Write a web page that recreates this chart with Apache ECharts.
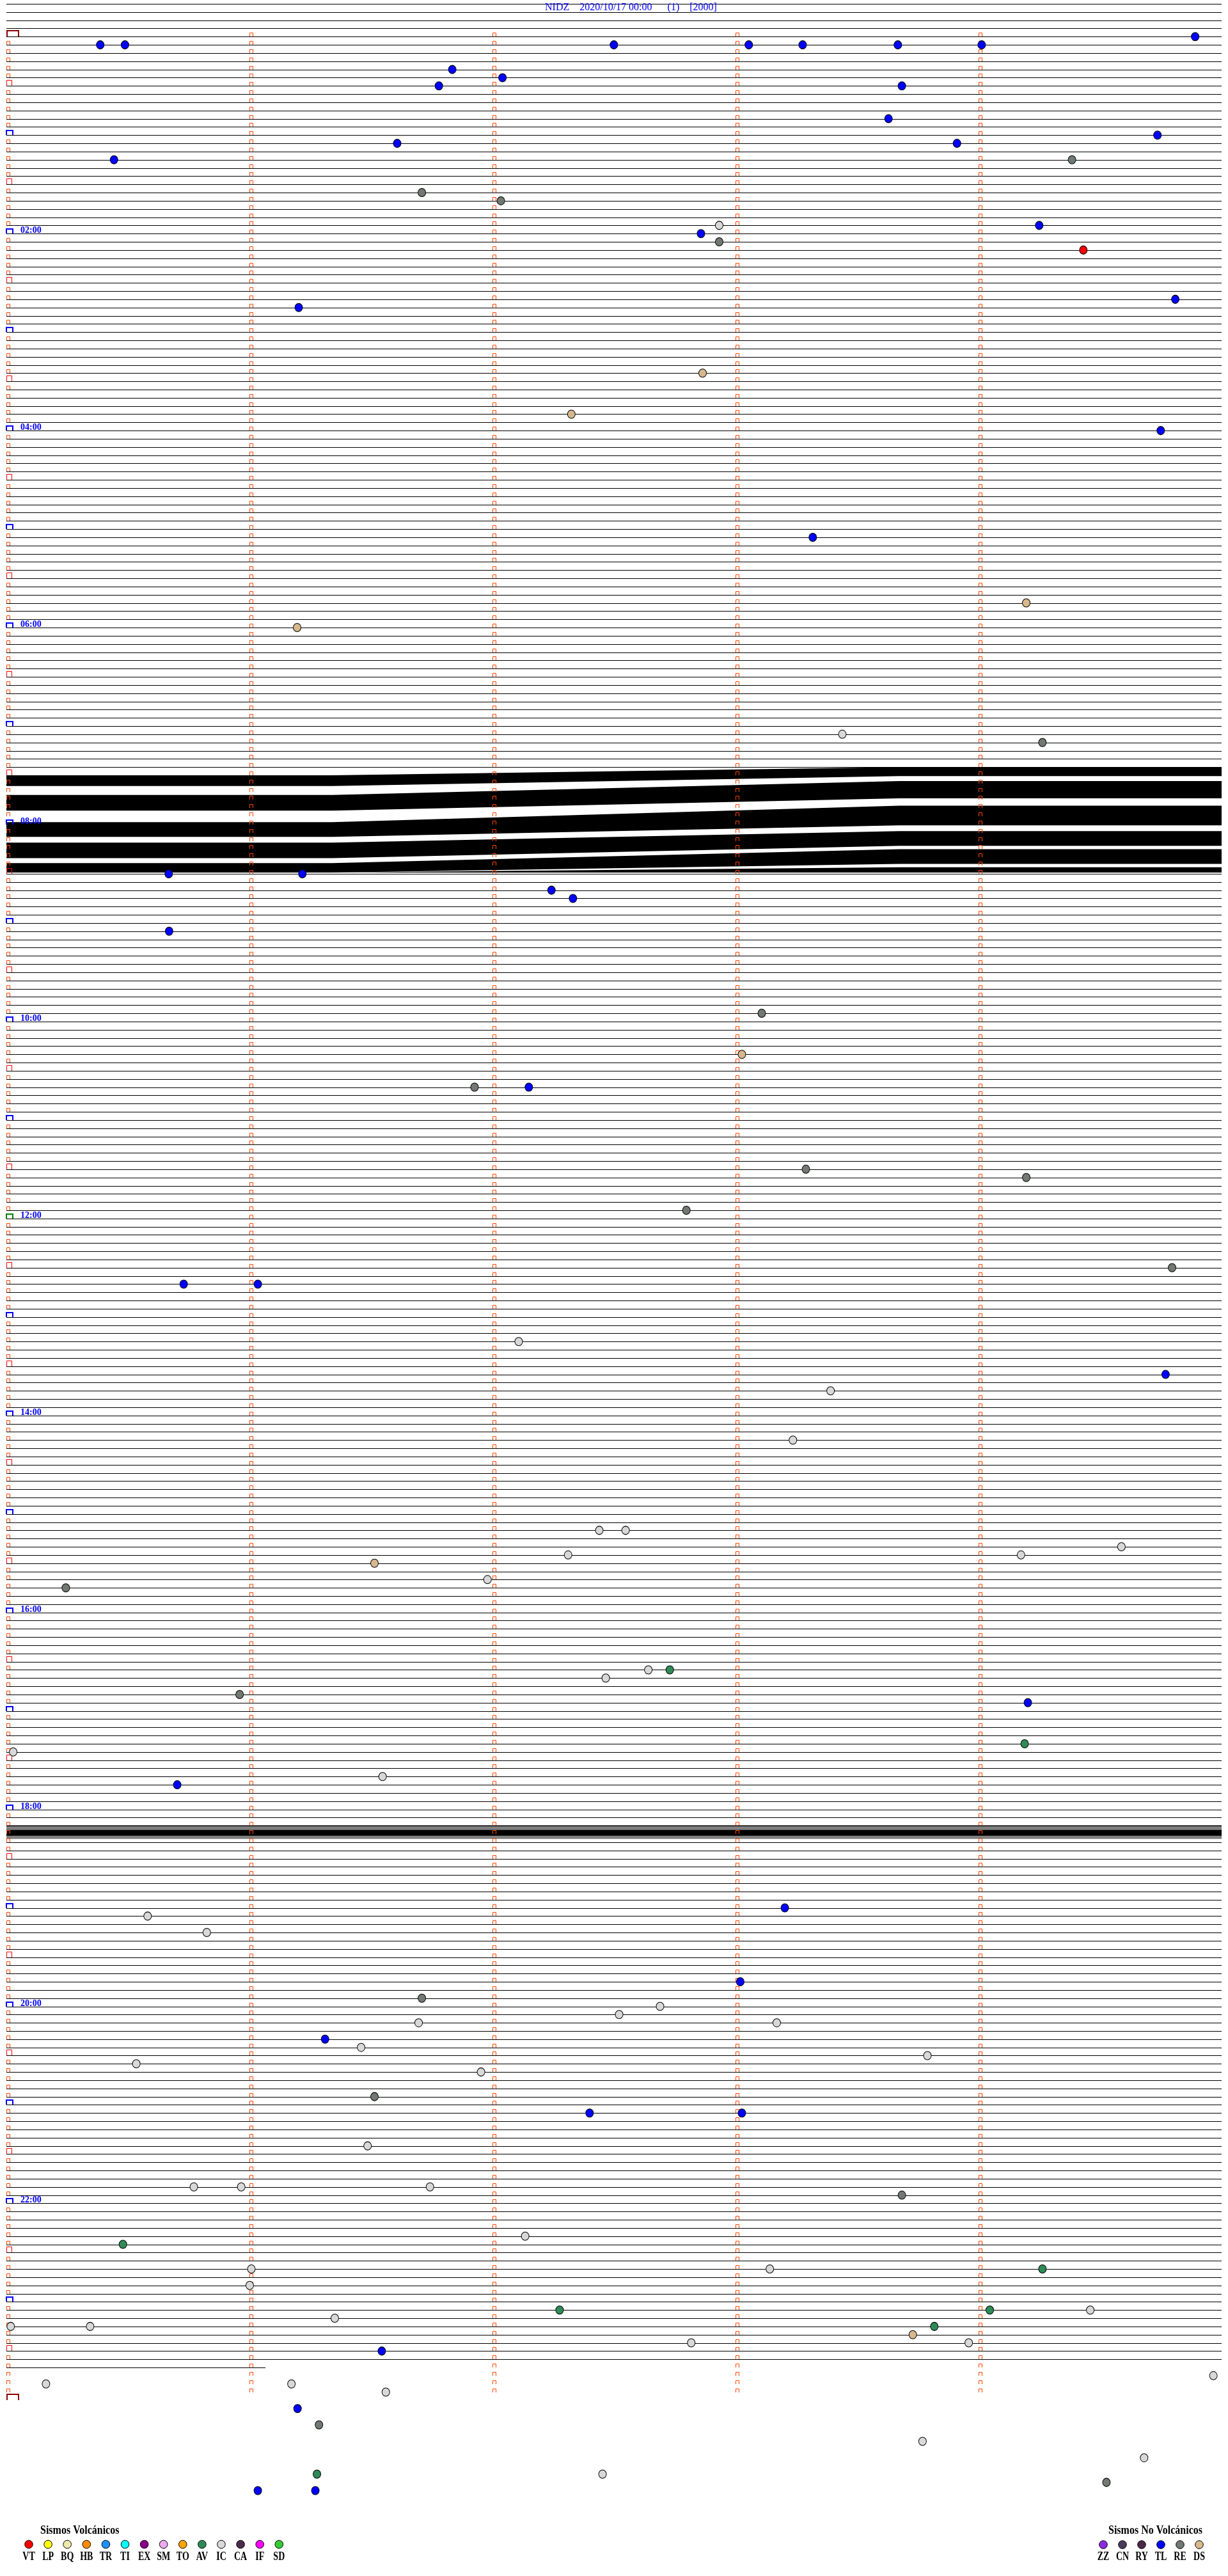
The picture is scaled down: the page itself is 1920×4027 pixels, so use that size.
<!DOCTYPE html>
<html><head><meta charset="utf-8">
<style>html,body{margin:0;padding:0;background:#fff;}#c{width:1920px;height:4027px;}</style>
<script src="https://cdn.jsdelivr.net/npm/echarts@6/dist/echarts.min.js"></script>
</head><body><div id="c"></div>
<script>
// ---------- data ----------
const titleText = 'NIDZ    2020/10/17 00:00      (1)    [2000]';
const rowStartSec = -0.47, rowEndSec = 299.53;   // each helicorder row spans 5 minutes
const firstLine = -4, lastLine = 284, lastLineEndSec = 63.5;
const dayEndLine = 288;
const minuteCols = [0, 60, 120, 180, 240];
const timeLabels = ['02:00','04:00','06:00','08:00','10:00','12:00','14:00','16:00','18:00','20:00','22:00'];
const noisyRows = [90, 101];   // rows whose trace is saturated (no baseline visible)
const noonRow = 144;           // 12:00 marker drawn in green

// events: [second within row, row index]
const evTL = [[22.7,1],[28.8,1],[149.5,1],[182.8,1],[196.1,1],[219.6,1],[240.3,1],[293.0,0],
 [109.6,4],[122.0,5],[106.3,6],[220.6,6],[217.3,10],[283.7,12],[234.2,13],[96.0,13],
 [26.1,15],[254.5,23],[171.0,24],[288.1,32],[71.7,33],[284.5,48],[198.6,61],
 [39.6,102],[72.6,102],[134.1,104],[139.4,105],[39.7,109],[128.5,128],[43.3,152],[61.6,152],
 [285.7,163],[251.7,203],[41.7,213],[191.7,228],[180.7,237],[78.2,244],[143.5,253],[181.1,253],
 [92.2,282],[71.4,289],[61.6,299],[75.8,299]];
const evRE = [[262.6,15],[102.1,19],[121.6,20],[175.5,25],[255.3,86],[186.0,119],[115.1,128],[196.9,138],
 [251.3,139],[167.4,143],[287.3,150],[14.2,189],[57.1,202],[102.1,239],[90.4,251],[220.6,263],[76.7,291],[271.1,298]];
const evIC = [[175.5,23],[205.9,85],[126.0,159],[203.0,165],[193.7,171],[145.9,182],[152.4,182],[274.8,184],
 [138.2,185],[250.0,185],[118.3,188],[158.0,199],[147.5,200],[1.2,209],[92.4,212],[34.4,229],[49.0,231],
 [160.9,240],[150.8,241],[101.3,242],[189.7,242],[87.1,245],[226.9,246],[31.6,247],[116.7,248],[88.7,257],
 [45.8,262],[57.5,262],[104.1,262],[127.6,268],[60.0,272],[188.0,272],[59.6,274],[267.1,277],[80.6,278],
 [0.6,279],[20.2,279],[168.6,281],[237.1,281],[297.5,285],[9.3,286],[69.9,286],[93.2,287],[225.7,293],
 [280.4,295],[146.7,297]];
const evDS = [[171.4,41],[139.0,46],[251.3,69],[71.3,72],[181.1,124],[90.4,186],[223.3,280]];
const evVT = [[265.4,26]];
const evAV = [[163.3,199],[250.9,208],[28.3,269],[255.3,272],[136.1,277],[242.3,277],[228.6,279],[76.2,297]];

// saturated block 07:25-08:30 : black bands, [top,bottom] edges in row units at noiseX seconds
const noiseX = [-0.47, 80, 220, 299.53];
const noiseTop = [
 [90.0, 90.0, 89.0, 89.0],
 [92.4, 92.4, 90.7, 90.7],
 [95.7, 95.7, 93.7, 93.7],
 [98.2, 98.2, 96.8, 96.8],
 [100.7,100.7, 99.0, 99.0],
 [101.85,101.85,101.2,101.2]];
const noiseBot = [
 [91.3, 91.3, 90.1, 90.1],
 [94.3, 94.3, 92.8, 92.8],
 [97.5, 97.5, 96.1, 96.1],
 [100.1,100.1, 98.6, 98.6],
 [101.85,101.85,100.8,100.8],
 [101.85,101.85,101.85,101.85]];
// noisy rows around 18:10
const noise2X = [-0.47, 299.53];
const noise2Outer = [[217.9, 217.9], [219.6, 219.6]];
const noise2Core = [[218.5, 218.5], [219.2, 219.2]];

const volcCodes = ['VT','LP','BQ','HB','TR','TI','EX','SM','TO','AV','IC','CA','IF','SD'];
const volcColors = ['#FF0000','#FFFF00','#EEE8AA','#FF8C00','#1E90FF','#00FFFF','#8B008B','#EEAAEE','#FFA500','#2E8B57','#D8D8D8','#4B2D4B','#FF00FF','#32CD32'];
const nonVolcCodes = ['ZZ','CN','RY','TL','RE','DS'];
const nonVolcColors = ['#8A2BE2','#4B3B5B','#4B2848','#0000FF','#727872','#D6B88C'];

// ---------- chart ----------
const chart = echarts.init(document.getElementById('c'), null, {renderer:'canvas'});
const colorOf = code => {
  let i = volcCodes.indexOf(code); if (i >= 0) return volcColors[i];
  i = nonVolcCodes.indexOf(code); return nonVolcColors[i];
};

const baseData = [];
for (let r = firstLine; r <= lastLine; r++) {
  if (r >= noisyRows[0] && r <= noisyRows[1]) continue;
  baseData.push([r === lastLine ? lastLineEndSec : rowEndSec, r]);
}
const markData = [];
for (let r = 0; r <= dayEndLine; r++) markData.push([0, r]);

function renderBase(params, api) {
  const p1 = api.coord([rowStartSec, api.value(1)]), p2 = api.coord([api.value(0), api.value(1)]);
  const y = Math.round(p1[1]) + 0.5;
  return {type:'line', silent:true, shape:{x1:p1[0], y1:y, x2:p2[0], y2:y}, style:{stroke:'#000', lineWidth:1}};
}
function smallMark(x, y) {
  return {type:'polyline', shape:{points:[[x+0.5,y],[x+0.5,y-5.5],[x+5.5,y-5.5],[x+5.5,y]]}, style:{stroke:'#FF4500', lineWidth:1, fill:null}};
}
function renderMarks(params, api) {
  const r = api.value(1);
  const p = api.coord([minuteCols[0], r]);
  const y = Math.round(p[1]);
  const x0 = Math.round(p[0]) - 3;
  const ch = [];
  if (r === 0 || r === dayEndLine) {
    ch.push({type:'polyline', shape:{points:[[x0+1,y],[x0+1,y-9],[x0+19,y-9],[x0+19,y]]}, style:{stroke:'#8B0000', lineWidth:2, fill:null}});
  } else if (r % 12 === 0) {
    ch.push({type:'polyline', shape:{points:[[x0,y],[x0,y-7],[x0+10,y-7],[x0+10,y]]}, style:{stroke: r === noonRow ? '#008000' : '#0000FF', lineWidth:2, fill:null}});
  } else if (r % 12 === 6) {
    ch.push({type:'polyline', shape:{points:[[x0+0.5,y],[x0+0.5,y-8.5],[x0+8.5,y-8.5],[x0+8.5,y]]}, style:{stroke:'#FF0000', lineWidth:1, fill:null}});
  } else {
    ch.push(smallMark(x0, y));
  }
  if (r !== dayEndLine) {
    for (let k = 1; k < minuteCols.length; k++) {
      const x = Math.round(api.coord([minuteCols[k], r])[0]) - 3;
      ch.push(smallMark(x, y));
    }
  }
  if (r % 24 === 0 && r > 0 && r < dayEndLine) {
    ch.push({type:'text', x: x0 + 22, y: y + 2, style:{text: timeLabels[r/24 - 1], fill:'#0000FF', font:'bold 14px "Liberation Serif"', verticalAlign:'bottom', align:'left'}});
  }
  return {type:'group', silent:true, children: ch};
}
function bandPolygon(api, xs, top, bot) {
  const pts = [];
  for (let k = 0; k < xs.length; k++) pts.push(api.coord([xs[k], top[k]]));
  for (let k = xs.length - 1; k >= 0; k--) pts.push(api.coord([xs[k], bot[k]]));
  return pts;
}
function renderNoise(params, api) {
  const i = params.dataIndex;
  return {type:'polygon', silent:true, shape:{points: bandPolygon(api, noiseX, noiseTop[i], noiseBot[i])}, style:{fill:'#000'}};
}
function renderNoise2(params, api) {
  const i = params.dataIndex;
  const src = i === 0 ? noise2Outer : noise2Core;
  return {type:'polygon', silent:true, shape:{points: bandPolygon(api, noise2X, src[0], src[1])}, style:{fill: i === 0 ? 'rgba(0,0,0,0.5)' : '#000'}};
}
function evSeries(name, data, code) {
  return {type:'scatter', name, data, symbol:'circle', symbolSize:[12,13], z:10,
    itemStyle:{color: colorOf(code), borderColor:'#000', borderWidth:1, opacity:1}, silent:true};
}

const graphic = [];
const legFont = 'bold 14px "Liberation Serif"';
volcCodes.forEach((c, i) => {
  const cx = 45 + i * 30.1;
  graphic.push({type:'circle', shape:{cx, cy:3977.5, r:6.3}, style:{fill: volcColors[i], stroke:'#000', lineWidth:1}});
  graphic.push({type:'text', x:cx, y:3997, scaleY:1.3, style:{text:c, fill:'#000', font:legFont, align:'center', verticalAlign:'middle'}});
});
nonVolcCodes.forEach((c, i) => {
  const cx = 1725 + i * 30;
  graphic.push({type:'circle', shape:{cx, cy:3978, r:6.3}, style:{fill: nonVolcColors[i], stroke:'#000', lineWidth:1}});
  graphic.push({type:'text', x:cx, y:3997.5, scaleY:1.3, style:{text:c, fill:'#000', font:legFont, align:'center', verticalAlign:'middle'}});
});
graphic.push({type:'text', x:63, y:3956.5, scaleY:1.2, style:{text:'Sismos Volcánicos', fill:'#000', font:'bold 16px "Liberation Serif"', align:'left', verticalAlign:'middle'}});
graphic.push({type:'text', x:1733, y:3956.5, scaleY:1.2, style:{text:'Sismos No Volcánicos', fill:'#000', font:'bold 16px "Liberation Serif"', align:'left', verticalAlign:'middle'}});

const option = {
  animation:false,
  backgroundColor:'#fff',
  title:{text:titleText, left:852, top:4, padding:0,
    textStyle:{color:'#0000FF', fontFamily:'Liberation Serif', fontSize:16, fontWeight:'normal'}},
  grid:{left:10, right:10, top:5.98, height:3977.3},
  xAxis:{type:'value', min:rowStartSec, max:rowEndSec, show:false},
  yAxis:{type:'value', min:-4, max:306, inverse:true, show:false},
  graphic,
  series:[
    {type:'custom', name:'rows', data:baseData, renderItem:renderBase, clip:false, silent:true, z:1},
    {type:'custom', name:'noise', data:noiseTop.map((_, i) => [0, noiseTop[i][0]]), renderItem:renderNoise, clip:false, silent:true, z:2},
    {type:'custom', name:'noise2', data:[[0,217.9],[0,218.5]], renderItem:renderNoise2, clip:false, silent:true, z:2},
    {type:'custom', name:'marks', data:markData, renderItem:renderMarks, clip:false, silent:true, z:3},
    evSeries('TL', evTL, 'TL'),
    evSeries('RE', evRE, 'RE'),
    evSeries('IC', evIC, 'IC'),
    evSeries('DS', evDS, 'DS'),
    evSeries('VT', evVT, 'VT'),
    evSeries('AV', evAV, 'AV')
  ]
};
chart.setOption(option);
</script></body></html>
